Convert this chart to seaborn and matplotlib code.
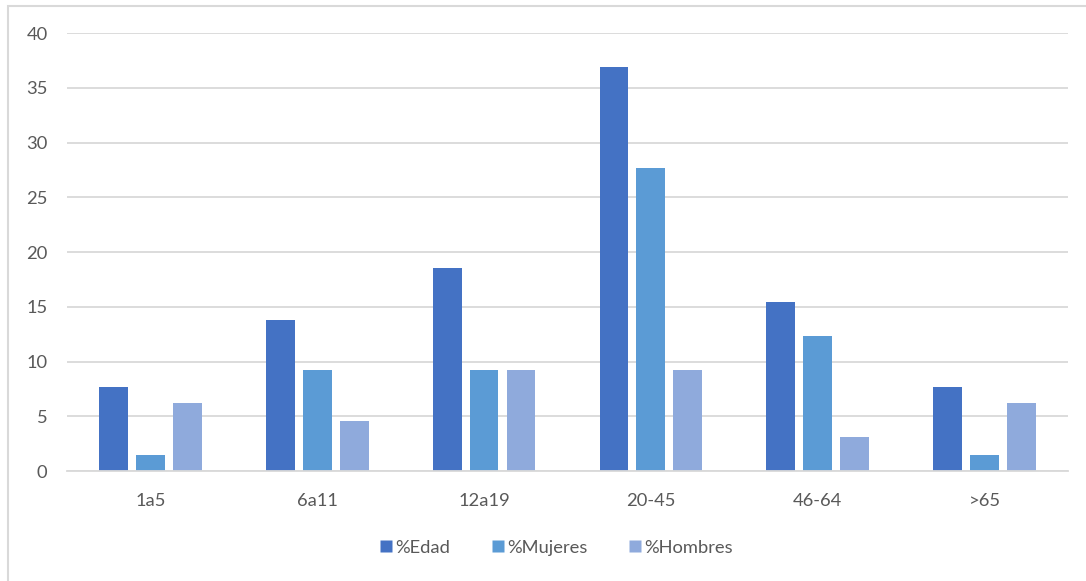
import numpy as np
import pandas as pd
import seaborn as sns
import matplotlib.pyplot as plt
from matplotlib.patches import Rectangle
from matplotlib.lines import Line2D

grupos = ['1a5', '6a11', '12a19', '20-45', '46-64', '>65']
edad = [7.7, 13.8, 18.5, 36.9, 15.4, 7.7]
mujeres = [1.5, 9.2, 9.2, 27.7, 12.3, 1.5]
hombres = [6.2, 4.6, 9.2, 9.2, 3.1, 6.2]
series = ['%Edad', '%Mujeres', '%Hombres']
colores = ['#4472C4', '#5B9BD5', '#8FAADC']

df = pd.DataFrame({'grupo': grupos * 3,
                   'serie': [s for s in series for _ in grupos],
                   'valor': edad + mujeres + hombres})

sns.set_style('white')
plt.rcParams['font.family'] = ['Lato', 'DejaVu Sans']
gris = '#595959'

fig = plt.figure(figsize=(10.86, 5.81), dpi=100)
ax = fig.add_axes([0.0617, 0.1893, 0.9217, 0.7539])

sns.barplot(data=df, x='grupo', y='valor', hue='serie', order=grupos, hue_order=series,
            palette=colores, width=0.665, gap=0.22, saturation=1, ax=ax,
            edgecolor='none', legend=False)

ax.set_ylim(0, 40)
ax.set_xlim(-0.5, 5.5)
ax.set_yticks(range(0, 41, 5))
ax.yaxis.grid(True, color='#D9D9D9', linewidth=1.3)
ax.set_axisbelow(True)
for s in ['top', 'right', 'left']:
    ax.spines[s].set_visible(False)
ax.spines['bottom'].set_color('#D9D9D9')
ax.spines['bottom'].set_linewidth(1.3)
ax.tick_params(axis='y', length=0, pad=14, labelsize=13.2, labelcolor=gris)
ax.tick_params(axis='x', length=0, pad=16, labelsize=13.2, labelcolor=gris)
ax.set_xlabel('')
ax.set_ylabel('')

handles = [Line2D([], [], marker='s', linestyle='none', markersize=8,
                  markerfacecolor=c, markeredgecolor='none') for c in colores]
fig.legend(handles, series, loc='center', bbox_to_anchor=(0.512, 0.057), ncol=3,
           frameon=False, fontsize=13.2, labelcolor=gris, handletextpad=0.1,
           columnspacing=2.2, handlelength=0.8)

fig.patches.append(Rectangle((0.0074, -0.1), 1.2, 0.9897 + 0.1, transform=fig.transFigure,
                             fill=False, edgecolor='#D9D9D9', linewidth=1.5))

fig.savefig('out.png', dpi=100)
